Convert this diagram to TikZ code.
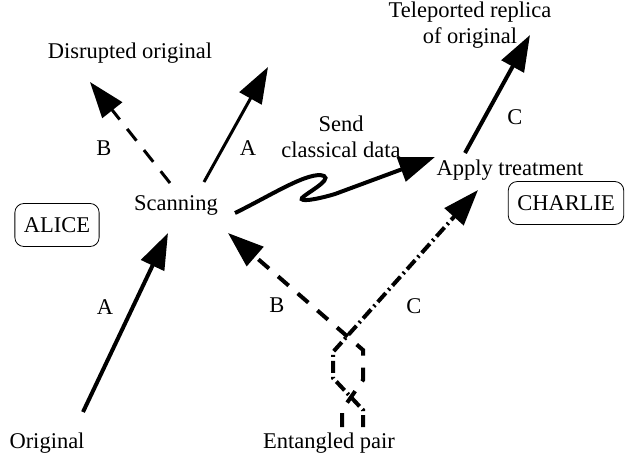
\documentclass[tikz,border=0pt]{standalone}
\usepackage{fontspec}
\setmainfont{Liberation Serif}
\usetikzlibrary{arrows.meta}

\tikzset{
  lbl/.style={font=\fontsize{22.5}{26}\selectfont, inner sep=0pt, align=center},
  party/.style={lbl, draw, line width=0.8pt, rounded corners=9pt, minimum height=43pt, inner xsep=9pt},
  head/.style={-{Triangle[length=36pt,width=25pt]}},
  solidA/.style={head, line width=4pt},
  dashB/.style={head, line width=4pt, dash pattern=on 14pt off 12pt},
  dotC/.style={head, line width=4pt, dash pattern=on 12pt off 4pt on 2pt off 4pt},
}

\begin{document}
\begin{tikzpicture}[x=1pt,y=-1pt]
\useasboundingbox (0,0) rectangle (625,459);

% texts
\node[lbl] (disr) at (130,53) {Disrupted original};
\node[lbl] (tele) at (470,25) {Teleported replica\\of original};
\node[lbl] (send) at (341,137) {Send\\classical data};
\node[lbl] (scan) at (176,205) {Scanning};
\node[lbl] (apply) at (510,170) {Apply treatment};
\node[lbl] (orig) at (47,443) {Original};
\node[lbl] (pair) at (329,443) {Entangled pair};

\node[party] (alice) at (57,225) {ALICE};
\node[party] (charlie) at (566,203) {CHARLIE};

% path labels
\node[lbl] (la1) at (105,307) {A};
\node[lbl] (la2) at (248,148) {A};
\node[lbl] (lb1) at (104,148) {B};
\node[lbl] (lb2) at (277,305) {B};
\node[lbl] (lc1) at (414,306) {C};
\node[lbl] (lc2) at (515,117) {C};

% arrow ends
\coordinate (origOut) at (83,412);
\coordinate (scanIn) at (168,233);
\coordinate (scanUp) at (204,182);
\coordinate (disrIn) at (268,67);
\coordinate (scanLeft) at (170,183);
\coordinate (lossIn) at (90,82);
\coordinate (scanOut) at (235,213);
\coordinate (applyIn) at (435,157);
\coordinate (pairB) at (228,233);
\coordinate (pairC) at (478,190);
\coordinate (applyUp) at (465,153);
\coordinate (teleIn) at (530,35);
\coordinate (pairL) at (342,427);
\coordinate (pairR) at (363,427);

\draw[solidA, line width=3pt] (scanUp) -- (disrIn);
\draw[dashB, line width=3pt, dash pattern=on 15pt off 12pt] (scanLeft) -- (lossIn);
\draw[solidA] (origOut) -- (scanIn);
\draw[solidA] (scanOut) .. controls (270,196) and (310,170) .. (324,176)
  .. controls (332,180) and (305,194) .. (302,198)
  .. controls (299,202) and (315,200) .. (335,194) -- (applyIn);
\draw[solidA] (applyUp) -- (teleIn);

% entangled pair
\draw[dashB] (pairL) -- (342,410) -- (363,380) -- (363,350) -- (pairB);
\draw[dotC] (pairR) -- (363,410) -- (333,378) -- (333,352) -- (pairC);

\end{tikzpicture}
\end{document}
